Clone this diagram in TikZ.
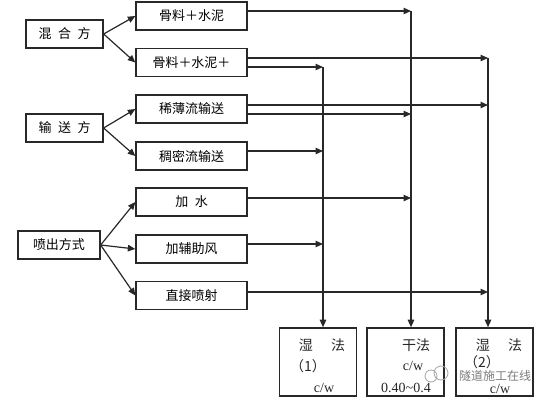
\documentclass[tikz,border=0pt]{standalone}
\usepackage{fontspec}
\setmainfont{Liberation Serif}
\newfontfamily\cjk{Noto Sans CJK SC}
\usetikzlibrary{arrows.meta,positioning,calc}
\definecolor{lineInk}{RGB}{40,40,40}
\definecolor{markGray}{RGB}{125,125,125}
\tikzset{
  method box/.style={draw=lineInk,line width=1.3pt,minimum width=77pt,minimum height=28pt,inner sep=0pt,font=\cjk\fontsize{13}{15}\selectfont},
  option box/.style={draw=lineInk,line width=1.3pt,minimum width=111pt,minimum height=28pt,inner sep=0pt,font=\cjk\fontsize{13}{15}\selectfont},
  result box/.style={draw=lineInk,line width=1.6pt,minimum width=77pt,minimum height=68pt,inner sep=0pt},
  result text/.style={inner sep=0pt,text=lineInk,font=\fontsize{14}{16}\selectfont},
  result name/.style={inner sep=0pt,text=lineInk,font=\cjk\fontsize{14}{16}\selectfont},
  flow arrow/.style={-{Triangle[length=7.5pt,width=6.5pt]},line width=1.2pt,draw=lineInk}
}

\begin{document}
\begin{tikzpicture}[x=1pt,y=-1pt]
  \useasboundingbox (0,0) rectangle (550,400);
  % left column
  \node[method box] (mixing) at (64.5,34) {混\enspace 合\enspace 方};
  \node[method box] (conveying) at (64.5,128) {输\enspace 送\enspace 方};
  \node[method box,minimum width=82pt] (spraying) at (59,245) {喷出方式};
  % middle column
  \node[option box] (aggCement) at (191.5,16) {骨料＋水泥};
  \node[option box] (aggCementPlus) at (191.5,62.5) {骨料＋水泥＋};
  \node[option box] (thinFlow) at (191.5,109) {稀薄流输送};
  \node[option box] (denseFlow) at (191.5,156) {稠密流输送};
  \node[option box] (addWater) at (191.5,202) {加\enspace 水};
  \node[option box] (addAir) at (191.5,249) {加辅助风};
  \node[option box] (directJet) at (191.5,295.5) {直接喷射};
  % result boxes
  \node[result box] (wetOne) at (318,362) {};
  \node[result box] (dry) at (405.5,362) {};
  \node[result box] (wetTwo) at (494.5,362) {};
  \node[result name] (wetOneName) at (322,345) {湿\hspace{1.3em}法};
  \node[result name] (wetOneNo) at (308,366) {（1）};
  \node[result text] (wetOneRatio) at (324,388) {c/w};
  \node[result name] (dryName) at (416,345) {干法};
  \node[result text] (dryRatio) at (413,366) {c/w};
  \node[result text] (dryRange) at (406,388) {0.40\textasciitilde 0.4};
  \node[result name] (wetTwoName) at (499,345) {湿\hspace{1.3em}法};
  \node[result name] (wetTwoNo) at (482,362) {（2）};
  \node[result text] (wetTwoRatio) at (500,389) {c/w};
  % collecting lines
  \coordinate (wetOneBus) at (323,67);
  \coordinate (dryBus) at (411,11);
  \coordinate (wetTwoBus) at (488,58);
  \draw[flow arrow] (mixing.east) -- (aggCement.west);
  \draw[flow arrow] (mixing.east) -- (aggCementPlus.west);
  \draw[flow arrow] (conveying.east) -- (thinFlow.west);
  \draw[flow arrow] (conveying.east) -- (denseFlow.west);
  \foreach \target in {addWater,addAir,directJet}
    \draw[flow arrow] (spraying.east) -- (\target.west);
  \draw[flow arrow] ([yshift=5pt]aggCement.east) -- (dryBus);
  \draw[flow arrow] ([yshift=4.5pt]aggCementPlus.east) -- (wetTwoBus);
  \draw[flow arrow] ([yshift=-4.5pt]aggCementPlus.east) -- (wetOneBus);
  \draw[flow arrow] ([yshift=4pt]thinFlow.east) -- ([yshift=4pt]thinFlow.east -| wetTwoBus);
  \draw[flow arrow] ([yshift=-5pt]thinFlow.east) -- ([yshift=-5pt]thinFlow.east -| dryBus);
  \draw[flow arrow] ([yshift=5pt]denseFlow.east) -- ([yshift=5pt]denseFlow.east -| wetOneBus);
  \draw[flow arrow] ([yshift=4pt]addWater.east) -- ([yshift=4pt]addWater.east -| dryBus);
  \draw[flow arrow] ([yshift=5pt]addAir.east) -- ([yshift=5pt]addAir.east -| wetOneBus);
  \draw[flow arrow] ([yshift=3.5pt]directJet.east) -- ([yshift=3.5pt]directJet.east -| wetTwoBus);
  \draw[flow arrow] (wetOneBus) -- (wetOneBus |- wetOne.north);
  \draw[flow arrow] (dryBus) -- (dryBus |- dry.north);
  \draw[flow arrow] (wetTwoBus) -- (wetTwoBus |- wetTwo.north);
  % watermark
  \draw[markGray!70,line width=0.8pt] (431,376) circle (6) (441,373) circle (7);
  \node[text=markGray,inner sep=0pt,font=\cjk\fontsize{12}{13}\selectfont] (watermark) at (495,376) {隧道施工在线};
\end{tikzpicture}
\end{document}
